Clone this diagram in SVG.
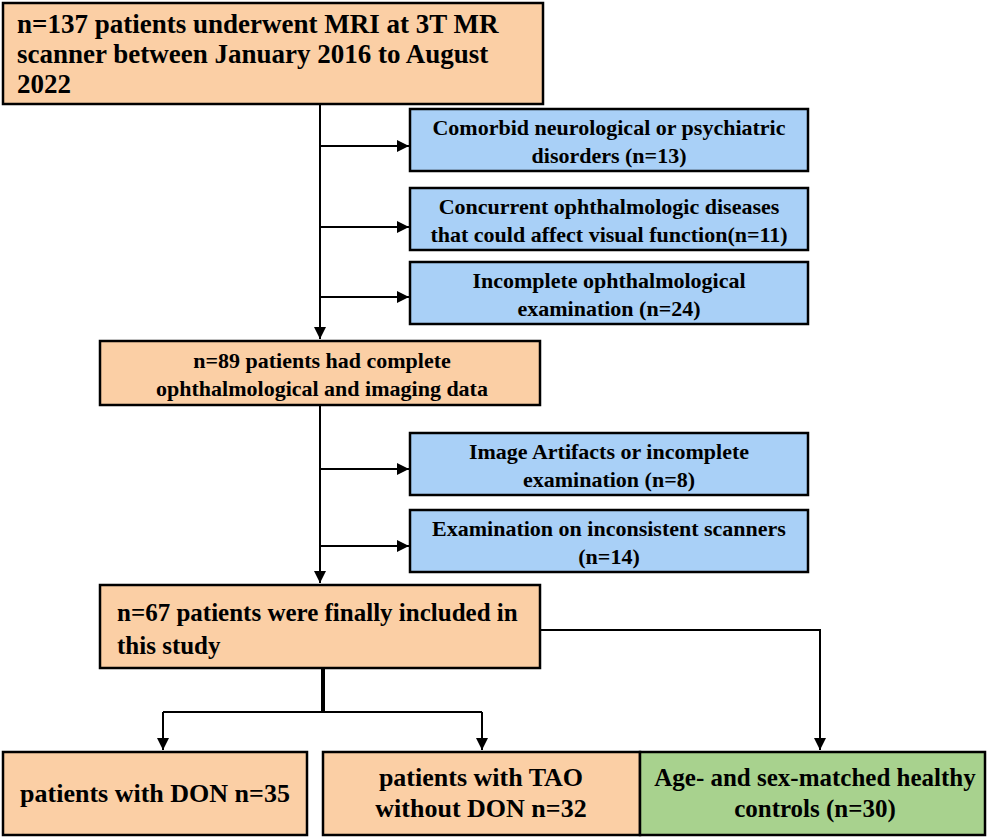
<svg xmlns="http://www.w3.org/2000/svg" width="993" height="838" viewBox="0 0 993 838">
<defs>
<style>
.o{fill:#FBCFA5;stroke:#000;stroke-width:2.5}
.b{fill:#A9D0F7;stroke:#000;stroke-width:2.5}
.g{fill:#A8D28E;stroke:#000;stroke-width:2.5}
text{font-family:"Liberation Serif",serif;font-weight:bold;font-size:22px;fill:#000}
.c{text-anchor:middle}
.l{fill:none;stroke:#000;stroke-width:2}
</style>
<marker id="a" viewBox="0 0 10 10" refX="10" refY="5" markerWidth="6" markerHeight="6" orient="auto"><path d="M0,0L10,5L0,10z" fill="#000"/></marker>
</defs>
<g id="connectors">
<path class="l" d="M320,104V339" marker-end="url(#a)"/>
<path class="l" d="M320,146H409" marker-end="url(#a)"/>
<path class="l" d="M320,227H409" marker-end="url(#a)"/>
<path class="l" d="M320,297H409" marker-end="url(#a)"/>
<path class="l" d="M320,405V583" marker-end="url(#a)"/>
<path class="l" d="M320,469H409" marker-end="url(#a)"/>
<path class="l" d="M320,546H409" marker-end="url(#a)"/>
<path class="l" d="M540,630H820V750" marker-end="url(#a)"/>
<path fill="none" stroke="#000" stroke-width="4" d="M323,668V712"/>
<path class="l" d="M163,712H482"/>
<path class="l" d="M163,712V750" marker-end="url(#a)"/>
<path class="l" d="M482,712V750" marker-end="url(#a)"/>
</g>
<g id="n1"><rect class="o" x="3" y="3" width="540" height="101"/>
<text x="17" y="33" style="font-size:27px">n=137 patients underwent MRI at 3T MR</text>
<text x="17" y="63" style="font-size:27px">scanner between January 2016 to August</text>
<text x="17" y="93" style="font-size:27px">2022</text></g>
<g id="n2"><rect class="b" x="410" y="109" width="398" height="62"/>
<text class="c" x="609" y="135">Comorbid neurological or psychiatric</text>
<text class="c" x="609" y="163">disorders (n=13)</text></g>
<g id="n3"><rect class="b" x="410" y="188" width="398" height="62"/>
<text class="c" x="609" y="214">Concurrent ophthalmologic diseases</text>
<text class="c" x="609" y="242">that could affect visual function(n=11)</text></g>
<g id="n4"><rect class="b" x="410" y="262" width="398" height="62"/>
<text class="c" x="609" y="288">Incomplete ophthalmological</text>
<text class="c" x="609" y="316">examination (n=24)</text></g>
<g id="n5"><rect class="o" x="100" y="341" width="440" height="64"/>
<text class="c" x="322" y="368">n=89 patients had complete</text>
<text class="c" x="322" y="396">ophthalmological and imaging data</text></g>
<g id="n6"><rect class="b" x="410" y="433" width="398" height="62"/>
<text class="c" x="609" y="459">Image Artifacts or incomplete</text>
<text class="c" x="609" y="487">examination (n=8)</text></g>
<g id="n7"><rect class="b" x="410" y="510" width="398" height="62"/>
<text class="c" x="609" y="536">Examination on inconsistent scanners</text>
<text class="c" x="609" y="564">(n=14)</text></g>
<g id="n8"><rect class="o" x="100" y="585" width="440" height="83"/>
<text x="117" y="621" style="font-size:25px">n=67 patients were finally included in</text>
<text x="117" y="654" style="font-size:25px">this study</text></g>
<g id="n9"><rect class="o" x="3" y="752" width="304" height="83"/>
<text class="c" x="155" y="802" style="font-size:26px">patients with DON n=35</text></g>
<g id="n10"><rect class="o" x="323" y="752" width="317" height="83"/>
<text class="c" x="481" y="786" style="font-size:26px">patients with TAO</text>
<text class="c" x="481" y="817" style="font-size:26px">without DON n=32</text></g>
<g id="n11"><rect class="g" x="640" y="752" width="345" height="83"/>
<text class="c" x="815" y="786" style="font-size:25px">Age- and sex-matched healthy</text>
<text class="c" x="815" y="817" style="font-size:25px">controls (n=30)</text></g>
</svg>
